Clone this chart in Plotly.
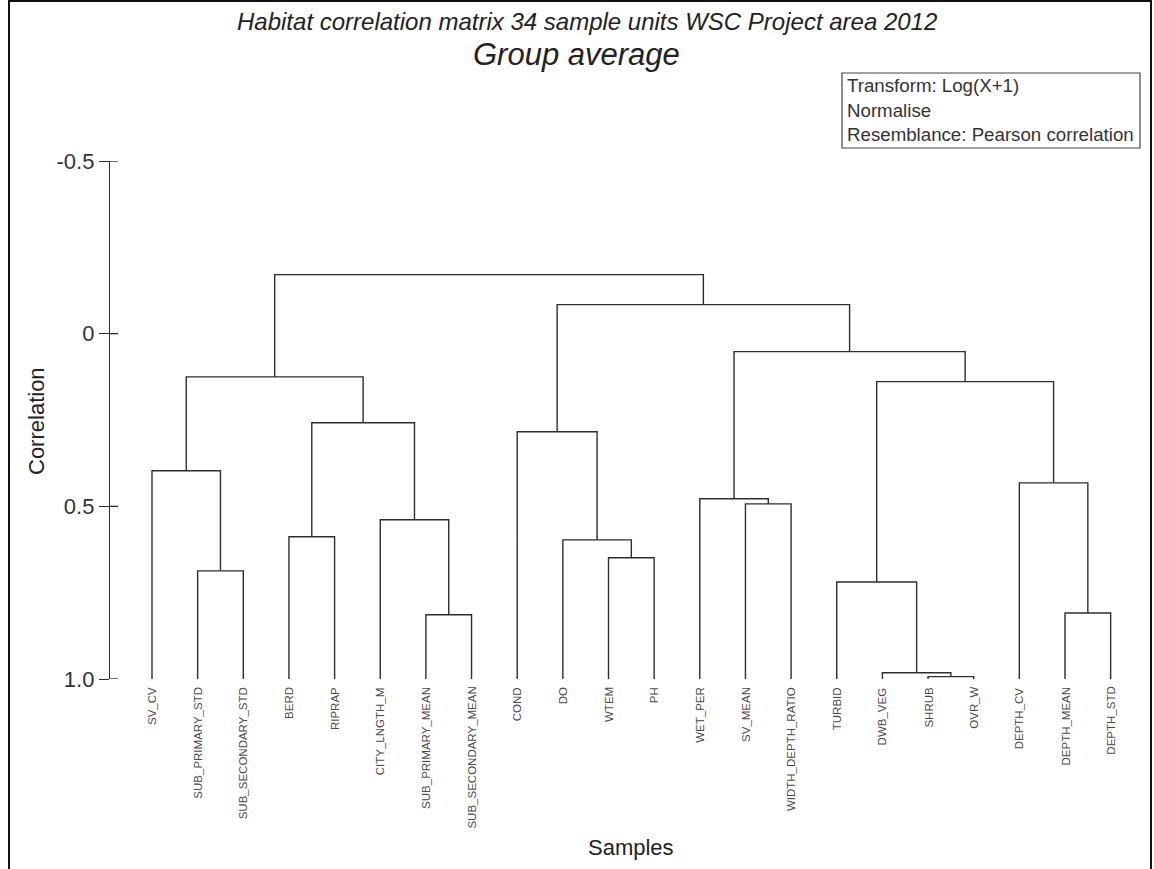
import plotly.graph_objects as go

# Leaves of the dendrogram, left to right
leaf_labels = [
    "SV_CV", "SUB_PRIMARY_STD", "SUB_SECONDARY_STD", "BERD", "RIPRAP",
    "CITY_LNGTH_M", "SUB_PRIMARY_MEAN", "SUB_SECONDARY_MEAN", "COND", "DO",
    "WTEM", "PH", "WET_PER", "SV_MEAN", "WIDTH_DEPTH_RATIO", "TURBID",
    "DWB_VEG", "SHRUB", "OVR_W", "DEPTH_CV", "DEPTH_MEAN", "DEPTH_STD",
]

# Group-average merges: ids < 22 are leaves, id 22 + k is the k-th merge
merge_left = [1, 0, 3, 6, 5, 24, 23, 10, 9, 8, 13, 12, 17, 16, 15, 20, 19, 36, 33, 31, 28]
merge_right = [2, 22, 4, 7, 25, 26, 27, 11, 29, 30, 14, 32, 18, 34, 35, 21, 37, 38, 39, 40, 41]
merge_level = [0.687, 0.397, 0.588, 0.814, 0.539, 0.258, 0.125, 0.649, 0.597, 0.284,
               0.493, 0.478, 0.993, 0.982, 0.719, 0.809, 0.432, 0.139, 0.052, -0.084, -0.171]

tick_vals = [-0.5, 0.0, 0.5, 1.0]
tick_text = ["-0.5", "0", "0.5", "1.0"]

# Page geometry (pixels)
W, H = 1154, 869
ML, MR, MT, MB = 110, 14, 161, 190
PW, PH = W - ML - MR, H - MT - MB


def paper_x(px):
    return (px - ML) / PW


def paper_y(py):
    return (H - MB - py) / PH


FONT = "Liberation Sans, Arial, sans-serif"
INK = "#2e2e2e"

# Build dendrogram segments
n = len(leaf_labels)
pos = {i: float(i) for i in range(n)}
lev = {i: 1.0 for i in range(n)}
xs, ys = [], []
for k, (a, b, h) in enumerate(zip(merge_left, merge_right, merge_level)):
    xs += [pos[a], pos[a], pos[b], pos[b], None]
    ys += [lev[a], h, h, lev[b], None]
    pos[n + k] = (pos[a] + pos[b]) / 2
    lev[n + k] = h

fig = go.Figure()
fig.add_trace(go.Scatter(
    x=xs, y=ys, mode="lines",
    line=dict(color=INK, width=1.4),
    hoverinfo="skip", showlegend=False,
))

annotations = []
# Leaf labels, rotated, hanging below the baseline
for i, lab in enumerate(leaf_labels):
    annotations.append(dict(
        x=i, y=1.0, xref="x", yref="y", text=lab, showarrow=False,
        textangle=-90, xanchor="center", yanchor="top", yshift=-6,
        font=dict(family=FONT, size=11.5, color="#4a4a4a"),
    ))

# Titles
annotations.append(dict(
    x=paper_x(587), y=paper_y(21), xref="paper", yref="paper",
    text="<i>Habitat correlation matrix 34 sample units WSC Project area 2012</i>",
    showarrow=False, xanchor="center", yanchor="middle",
    font=dict(family=FONT, size=24, color="#222"),
))
annotations.append(dict(
    x=paper_x(576), y=paper_y(55), xref="paper", yref="paper",
    text="<i>Group average</i>", showarrow=False, xanchor="center", yanchor="middle",
    font=dict(family=FONT, size=31, color="#222"),
))

# Info box
info_lines = ["Transform: Log(X+1)", "Normalise", "Resemblance: Pearson correlation"]
for j, line in enumerate(info_lines):
    annotations.append(dict(
        x=paper_x(845), y=paper_y(86 + 24 * j), xref="paper", yref="paper",
        text=line, showarrow=False, xanchor="left", yanchor="middle",
        font=dict(family=FONT, size=18.7, color="#333"),
    ))

# Axis titles
annotations.append(dict(
    x=paper_x(36), y=paper_y(421), xref="paper", yref="paper",
    text="Correlation", showarrow=False, textangle=-90,
    xanchor="center", yanchor="middle",
    font=dict(family=FONT, size=22, color="#222"),
))
annotations.append(dict(
    x=paper_x(631), y=paper_y(847), xref="paper", yref="paper",
    text="Samples", showarrow=False, xanchor="center", yanchor="middle",
    font=dict(family=FONT, size=22, color="#222"),
))

shapes = []
# Inner half of the crossing tick marks
for v in tick_vals:
    shapes.append(dict(
        type="line", xref="paper", yref="y", xsizemode="pixel", xanchor=0,
        x0=0, x1=8, y0=v, y1=v, line=dict(color=INK, width=1.3),
    ))
# Info box frame
shapes.append(dict(
    type="rect", xref="paper", yref="paper",
    x0=paper_x(842), x1=paper_x(1140), y0=paper_y(73), y1=paper_y(148),
    line=dict(color="#444", width=1.2), fillcolor="rgba(0,0,0,0)",
))
# Outer frame
shapes.append(dict(
    type="rect", xref="paper", yref="paper",
    x0=paper_x(9), x1=paper_x(1151), y0=paper_y(1), y1=paper_y(900),
    line=dict(color="#111", width=2), fillcolor="rgba(0,0,0,0)", layer="below",
))

fig.update_layout(
    width=W, height=H,
    margin=dict(l=ML, r=MR, t=MT, b=MB, pad=0),
    paper_bgcolor="white", plot_bgcolor="white",
    showlegend=False,
    annotations=annotations,
    shapes=shapes,
    xaxis=dict(
        range=[(ML - 152) / 45.65, (W - MR - 152) / 45.65],
        visible=False, fixedrange=True,
    ),
    yaxis=dict(
        range=[1.0, -0.5],
        tickvals=tick_vals, ticktext=tick_text,
        ticks="outside", ticklen=10, tickwidth=1.3, tickcolor=INK,
        showline=True, linecolor=INK, linewidth=1.4,
        showgrid=False, zeroline=False,
        tickfont=dict(family=FONT, size=22, color="#333"),
    ),
)

fig.write_html("out.html")
